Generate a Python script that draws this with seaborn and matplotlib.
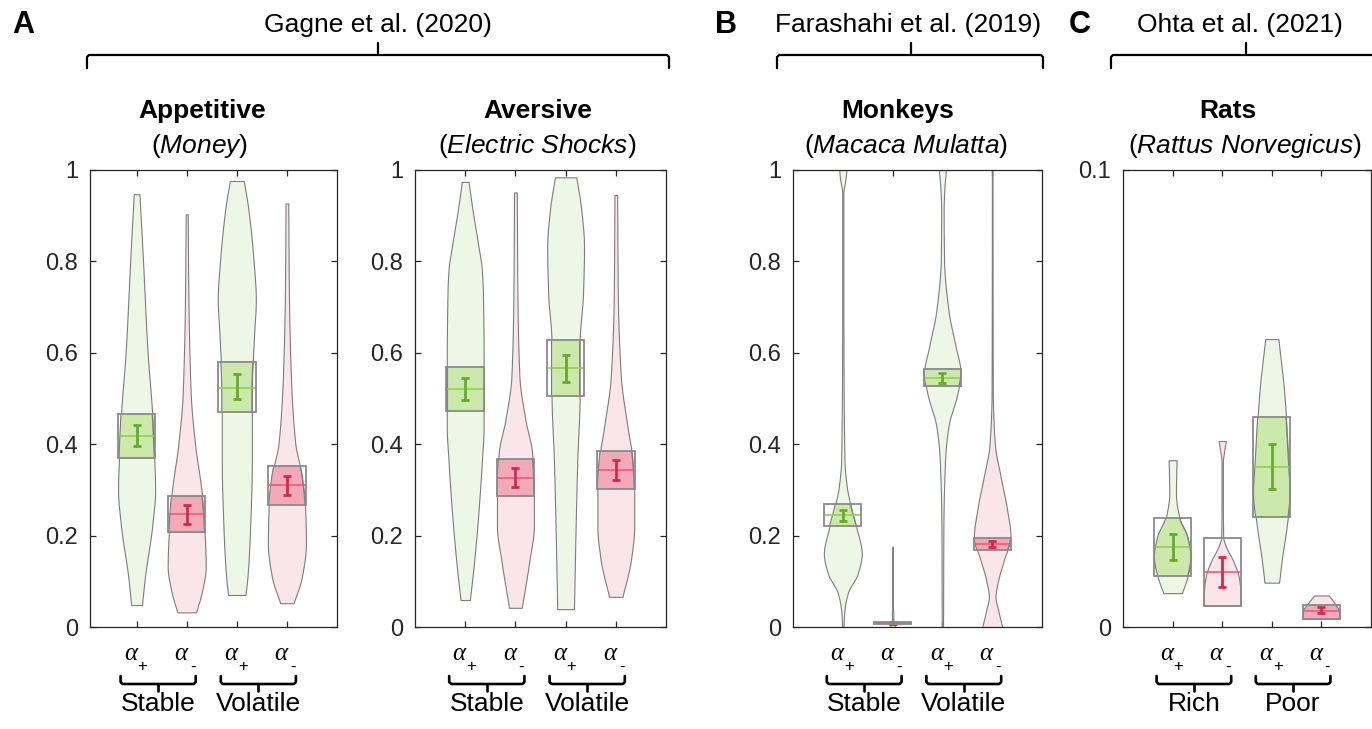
import numpy as np
import matplotlib
matplotlib.use("Agg")
import matplotlib.pyplot as plt
from matplotlib.lines import Line2D
from matplotlib.patches import Rectangle
import seaborn as sns

sns.set_theme(style="white")
plt.rcParams["font.family"] = ["Liberation Sans", "DejaVu Sans"]
plt.rcParams["mathtext.fontset"] = "custom"
plt.rcParams["mathtext.rm"] = "Liberation Sans"
plt.rcParams["mathtext.it"] = "Liberation Sans:italic"
plt.rcParams["mathtext.bf"] = "Liberation Sans:bold"

# ---------------------------------------------------------------- data
positions = [1, 2, 3, 4]
valence = ["+", "-", "+", "-"]

# Panel A - Appetitive (Money)
appetitive_mean = [0.418, 0.247, 0.524, 0.310]
appetitive_err_lo = [0.395, 0.226, 0.498, 0.289]
appetitive_err_hi = [0.442, 0.268, 0.553, 0.331]
appetitive_box_lo = [0.370, 0.207, 0.470, 0.268]
appetitive_box_hi = [0.466, 0.287, 0.580, 0.352]
appetitive_shaded = [True, True, True, True]
appetitive_violins = [
    [(0.048, 0.107), (0.11, 0.167), (0.22, 0.31), (0.30, 0.37), (0.373, 0.35),
     (0.468, 0.31), (0.599, 0.22), (0.803, 0.127), (0.947, 0.057)],
    [(0.032, 0.187), (0.08, 0.31), (0.132, 0.38), (0.22, 0.35), (0.293, 0.30),
     (0.40, 0.167), (0.511, 0.08), (0.73, 0.033), (0.903, 0.02)],
    [(0.07, 0.173), (0.11, 0.213), (0.22, 0.267), (0.365, 0.30), (0.51, 0.30),
     (0.643, 0.347), (0.716, 0.38), (0.803, 0.333), (0.912, 0.233), (0.976, 0.14)],
    [(0.052, 0.133), (0.11, 0.30), (0.183, 0.38), (0.256, 0.367), (0.33, 0.30),
     (0.402, 0.167), (0.548, 0.08), (0.73, 0.04), (0.927, 0.027)],
]

# Panel A - Aversive (Electric Shocks)
aversive_mean = [0.521, 0.327, 0.566, 0.344]
aversive_err_lo = [0.497, 0.307, 0.536, 0.322]
aversive_err_hi = [0.544, 0.348, 0.596, 0.365]
aversive_box_lo = [0.473, 0.286, 0.505, 0.302]
aversive_box_hi = [0.569, 0.368, 0.627, 0.385]
aversive_shaded = [True, True, True, True]
aversive_violins = [
    [(0.059, 0.093), (0.146, 0.18), (0.256, 0.267), (0.365, 0.333), (0.438, 0.367),
     (0.584, 0.367), (0.73, 0.353), (0.78, 0.333), (0.84, 0.253), (0.912, 0.147), (0.974, 0.067)],
    [(0.042, 0.127), (0.146, 0.28), (0.22, 0.367), (0.293, 0.367), (0.38, 0.333),
     (0.453, 0.20), (0.548, 0.08), (0.73, 0.04), (0.951, 0.027)],
    [(0.039, 0.167), (0.22, 0.20), (0.365, 0.233), (0.51, 0.28), (0.62, 0.28),
     (0.73, 0.347), (0.832, 0.367), (0.912, 0.313), (0.984, 0.213)],
    [(0.066, 0.133), (0.146, 0.30), (0.22, 0.367), (0.293, 0.367), (0.365, 0.333),
     (0.438, 0.233), (0.548, 0.10), (0.73, 0.04), (0.945, 0.027)],
]

# Panel B - Monkeys (Macaca Mulatta)
monkeys_mean = [0.245, 0.009, 0.545, 0.181]
monkeys_err_lo = [0.232, 0.007, 0.534, 0.174]
monkeys_err_hi = [0.257, 0.011, 0.556, 0.189]
monkeys_box_lo = [0.221, 0.0057, 0.527, 0.168]
monkeys_box_hi = [0.269, 0.012, 0.565, 0.195]
monkeys_shaded = [True, True, True, True]
monkeys_violins = [
    [(0.0, 0.013), (0.037, 0.033), (0.074, 0.10), (0.117, 0.30), (0.16, 0.38),
     (0.22, 0.267), (0.27, 0.147), (0.307, 0.08), (0.365, 0.033), (0.657, 0.013),
     (0.953, 0.013), (0.965, 0.03), (0.985, 0.06), (1.0, 0.07), (1.03, 0.06)],
    [(0.0, 0.03), (0.006, 0.06), (0.012, 0.02), (0.02, 0.012), (0.03, 0.015),
     (0.045, 0.004), (0.176, 0.003)],
    [(0.0, 0.013), (0.22, 0.02), (0.365, 0.053), (0.438, 0.12), (0.51, 0.30),
     (0.555, 0.367), (0.613, 0.267), (0.694, 0.12), (0.803, 0.033), (0.912, 0.025),
     (0.96, 0.04), (1.0, 0.067), (1.03, 0.07)],
    [(0.0, 0.20), (0.037, 0.12), (0.066, 0.067), (0.102, 0.12), (0.146, 0.233),
     (0.198, 0.367), (0.256, 0.30), (0.33, 0.167), (0.40, 0.053), (0.51, 0.013), (1.03, 0.005)],
]

# Panel C - Rats (Rattus Norvegicus)
rats_mean = [0.0175, 0.0120, 0.0351, 0.0036]
rats_err_lo = [0.0147, 0.0087, 0.0301, 0.0030]
rats_err_hi = [0.0204, 0.0154, 0.0400, 0.0043]
rats_box_lo = [0.0112, 0.0047, 0.0241, 0.0018]
rats_box_hi = [0.0239, 0.0195, 0.0460, 0.0049]
rats_shaded = [True, False, True, True]
rats_violins = [
    [(0.0074, 0.187), (0.011, 0.30), (0.0154, 0.367), (0.0197, 0.30), (0.0241, 0.133),
     (0.0293, 0.067), (0.0365, 0.08)],
    [(0.0047, 0.375), (0.0074, 0.37), (0.011, 0.333), (0.0145, 0.22), (0.0175, 0.08),
     (0.0197, 0.02), (0.0293, 0.013), (0.036, 0.013), (0.0385, 0.04), (0.0407, 0.073)],
    [(0.0097, 0.147), (0.0146, 0.20), (0.022, 0.30), (0.0293, 0.367), (0.0365, 0.333),
     (0.051, 0.253), (0.063, 0.133)],
    [(0.0018, 0.367), (0.003, 0.367), (0.0052, 0.267), (0.0069, 0.147)],
]

# ---------------------------------------------------------------- style
W, H = 1372, 729
GREEN = dict(light="#eef7e6", dark="#cbe9aa", mean="#8fd24e", err="#67ab2c")
PINK = dict(light="#fae6ea", dark="#f2a9b8", mean="#ee5a7a", err="#cf2b4f")
OUTLINE = "#7d7d7d"
BOXEDGE = "#8a8a8a"
INK = "#262626"
BOX_HALF = 0.375


def pchip(x, y, xn):
    x = np.asarray(x, float)
    y = np.asarray(y, float)
    h = np.diff(x)
    d = np.diff(y) / h
    n = len(x)
    m = np.zeros(n)
    if n == 2:
        m[:] = d[0]
    else:
        for k in range(1, n - 1):
            if d[k - 1] * d[k] > 0:
                w1 = 2 * h[k] + h[k - 1]
                w2 = h[k] + 2 * h[k - 1]
                m[k] = (w1 + w2) / (w1 / d[k - 1] + w2 / d[k])
        m[0] = d[0]
        m[-1] = d[-1]
    idx = np.clip(np.searchsorted(x, xn, side="right") - 1, 0, n - 2)
    t = (xn - x[idx]) / h[idx]
    t2, t3 = t * t, t * t * t
    return ((2 * t3 - 3 * t2 + 1) * y[idx] + (t3 - 2 * t2 + t) * h[idx] * m[idx]
            + (-2 * t3 + 3 * t2) * y[idx + 1] + (t3 - t2) * h[idx] * m[idx + 1])


def draw_violin(ax, pos, pts, lo, hi, mean, elo, ehi, shaded, col):
    yv = np.array([p[0] for p in pts])
    wv = np.array([p[1] for p in pts])
    yy = np.linspace(yv[0], yv[-1], 400)
    ww = np.clip(pchip(yv, wv, yy), 0.003, None)
    ax.fill_betweenx(yy, pos - ww, pos + ww, facecolor=col["light"],
                     edgecolor=OUTLINE, linewidth=0.8, zorder=2)
    lo_c, hi_c = max(lo, yy[0]), min(hi, yy[-1])
    if shaded and hi_c > lo_c:
        ys = np.linspace(lo_c, hi_c, 120)
        ws = np.interp(ys, yy, ww)
        ax.fill_betweenx(ys, pos - ws, pos + ws, facecolor=col["dark"],
                         edgecolor="none", zorder=3)
        ax.plot(pos - ws, ys, color=OUTLINE, lw=0.8, zorder=3.5)
        ax.plot(pos + ws, ys, color=OUTLINE, lw=0.8, zorder=3.5)
    ax.plot([pos - BOX_HALF, pos + BOX_HALF], [mean, mean], color=col["mean"],
            lw=1.2, zorder=4, solid_capstyle="butt")
    ax.errorbar(pos, mean, yerr=[[mean - elo], [ehi - mean]], fmt="none",
                ecolor=col["err"], elinewidth=2.0, capsize=3.2, capthick=2.0, zorder=5)
    ax.add_patch(Rectangle((pos - BOX_HALF, lo), 2 * BOX_HALF, hi - lo, fill=False,
                           edgecolor=BOXEDGE, linewidth=1.3, zorder=6))


def fx(x):
    return x / W


def fy(y):
    return 1 - y / H


fig = plt.figure(figsize=(W / 100, H / 100), dpi=100, facecolor="white")

panels = [
    dict(rect=(90, 337), xlim=(0.07, 5.0), ylim=(0, 1), yt=[0, 0.2, 0.4, 0.6, 0.8, 1],
         ytl=["0", "0.2", "0.4", "0.6", "0.8", "1"],
         mean=appetitive_mean, elo=appetitive_err_lo, ehi=appetitive_err_hi,
         blo=appetitive_box_lo, bhi=appetitive_box_hi, vio=appetitive_violins,
         shaded=appetitive_shaded, groups=["Stable", "Volatile"],
         title="Appetitive", sub=r"($\mathit{Money}$)", tx=(202.5, 200)),
    dict(rect=(415, 666), xlim=(0, 5.0), ylim=(0, 1), yt=[0, 0.2, 0.4, 0.6, 0.8, 1],
         ytl=["0", "0.2", "0.4", "0.6", "0.8", "1"],
         mean=aversive_mean, elo=aversive_err_lo, ehi=aversive_err_hi,
         blo=aversive_box_lo, bhi=aversive_box_hi, vio=aversive_violins,
         shaded=aversive_shaded, groups=["Stable", "Volatile"],
         title="Aversive", sub=r"($\mathit{Electric\ Shocks}$)", tx=(538, 537.5)),
    dict(rect=(793, 1042), xlim=(0, 5.0), ylim=(0, 1), yt=[0, 0.2, 0.4, 0.6, 0.8, 1],
         ytl=["0", "0.2", "0.4", "0.6", "0.8", "1"],
         mean=monkeys_mean, elo=monkeys_err_lo, ehi=monkeys_err_hi,
         blo=monkeys_box_lo, bhi=monkeys_box_hi, vio=monkeys_violins,
         shaded=monkeys_shaded, groups=["Stable", "Volatile"],
         title="Monkeys", sub=r"($\mathit{Macaca\ Mulatta}$)", tx=(898, 906)),
    dict(rect=(1123, 1371), xlim=(0, 5.0), ylim=(0, 0.1), yt=[0, 0.1],
         ytl=["0", "0.1"],
         mean=rats_mean, elo=rats_err_lo, ehi=rats_err_hi,
         blo=rats_box_lo, bhi=rats_box_hi, vio=rats_violins,
         shaded=rats_shaded, groups=["Rich", "Poor"],
         title="Rats", sub=r"($\mathit{Rattus\ Norvegicus}$)", tx=(1228, 1245)),
]

AX_TOP, AX_BOT = 170, 627
PT = 0.72  # points per pixel at 100 dpi

for p in panels:
    l, r = p["rect"]
    ax = fig.add_axes([fx(l), fy(AX_BOT), (r - l) / W, (AX_BOT - AX_TOP) / H])
    ax.set_facecolor("white")
    ax.set_xlim(*p["xlim"])
    ax.set_ylim(*p["ylim"])
    for i, pos in enumerate(positions):
        col = GREEN if valence[i] == "+" else PINK
        draw_violin(ax, pos, p["vio"][i], p["blo"][i], p["bhi"][i], p["mean"][i],
                    p["elo"][i], p["ehi"][i], p["shaded"][i], col)
    ax.set_xticks(positions)
    ax.set_xticklabels([])
    ax.set_yticks(p["yt"])
    ax.set_yticklabels(p["ytl"], fontsize=17, color=INK)
    ax.tick_params(direction="in", length=4, width=0.9, color=INK, top=True,
                   right=True, bottom=True, left=True, pad=8.5)
    for s in ax.spines.values():
        s.set_color(INK)
        s.set_linewidth(0.9)
        s.set_zorder(10)
    ax.grid(False)

    # titles
    fig.text(fx(p["tx"][0]), fy(111), p["title"], fontsize=19, fontweight="bold",
             ha="center", va="center", color="black")
    fig.text(fx(p["tx"][1]), fy(146), p["sub"], fontsize=19,
             ha="center", va="center", color="black")

    # alpha tick labels
    for i, pos in enumerate(positions):
        ax.annotate("α", xy=(pos, 0), xycoords=("data", "axes fraction"),
                    xytext=(-6 * PT, -27 * PT), textcoords="offset points",
                    ha="center", va="center", fontsize=18,
                    family=["Liberation Serif", "DejaVu Serif"], style="italic",
                    color="black", annotation_clip=False)
        ax.annotate(valence[i], xy=(pos, 0), xycoords=("data", "axes fraction"),
                    xytext=(6 * PT, -40 * PT), textcoords="offset points",
                    ha="center", va="center", fontsize=12, color="black",
                    annotation_clip=False)

    # bottom brackets
    for g, (a, b) in enumerate([(positions[0], positions[1]), (positions[2], positions[3])]):
        xa = ax.transData.transform((a, 0))[0] - 16
        xb = ax.transData.transform((b, 0))[0] + 9
        xc = (xa + xb) / 2
        yh, ye, ys = 684, 676, 691
        xs = [xa, xa, xa + 2, xb - 2, xb, xb]
        ysq = [ye, yh - 2, yh, yh, yh - 2, ye]
        fig.add_artist(Line2D([fx(v) for v in xs], [fy(v) for v in ysq],
                              transform=fig.transFigure, color="black", lw=1.9,
                              solid_joinstyle="round"))
        fig.add_artist(Line2D([fx(xc), fx(xc)], [fy(yh), fy(ys)],
                              transform=fig.transFigure, color="black", lw=1.9))
        fig.text(fx(xc), fy(704), p["groups"][g], fontsize=19, ha="center",
                 va="center", color="black")

# top brackets, study names and panel letters
studies = ["Gagne et al. (2020)", "Farashahi et al. (2019)", "Ohta et al. (2021)"]
letters = ["A", "B", "C"]
study_span = [(87, 669, 378), (777, 1043, 911), (1111, 1385, 1246)]
study_text_x = [378, 908, 1240]
letter_x = [23, 726, 1080]

for s, (xa, xb, xc), tx, L, lx in zip(studies, study_span, study_text_x, letters, letter_x):
    yh, ye, ys = 55, 68, 43
    xs = [xa, xa, xa + 2, xb - 2, xb, xb]
    ysq = [ye, yh + 2, yh, yh, yh + 2, ye]
    fig.add_artist(Line2D([fx(v) for v in xs], [fy(v) for v in ysq],
                          transform=fig.transFigure, color="black", lw=1.6,
                          solid_joinstyle="round"))
    fig.add_artist(Line2D([fx(xc), fx(xc)], [fy(yh), fy(ys)],
                          transform=fig.transFigure, color="black", lw=1.6))
    fig.text(fx(tx), fy(25), s, fontsize=19, ha="center", va="center", color="black")
    fig.text(fx(lx), fy(25), L, fontsize=22, fontweight="bold", ha="center",
             va="center", color="black")

fig.savefig("out.png", dpi=100, facecolor="white")
